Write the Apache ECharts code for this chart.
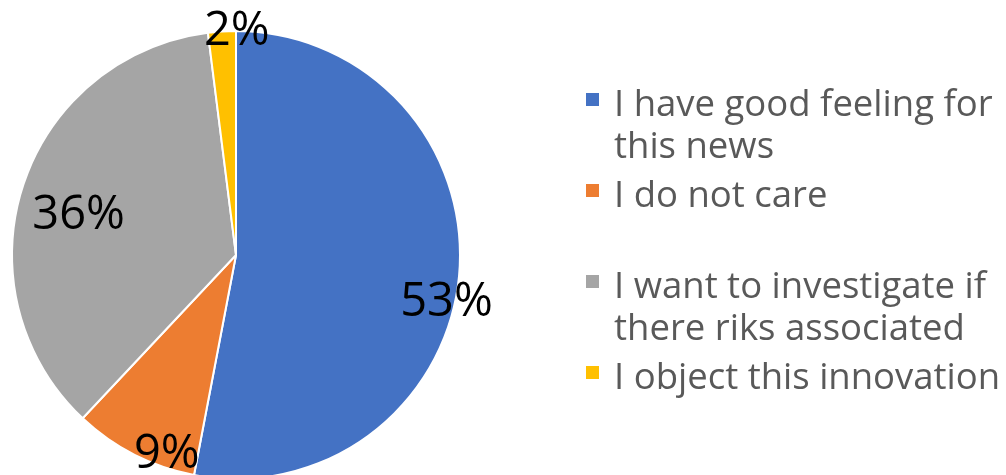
<!DOCTYPE html>
<html>
<head>
<meta charset="utf-8">
<script src="https://cdn.jsdelivr.net/npm/echarts@6/dist/echarts.min.js"></script>
<style>
  html, body { margin: 0; padding: 0; background: #ffffff; }
  #chart { width: 1006px; height: 475px; }
</style>
</head>
<body>
<div id="chart"></div>
<script>
// Survey responses: share of each reaction to the news (percent)
const categories = [
  'I have good feeling for this news',
  'I do not care',
  'I want to investigate if there riks associated',
  'I object this innovation'
];
const shares = [53, 9, 36, 2];
// Legend text as it wraps on screen
const legendLines = [
  ['I have good feeling for', 'this news'],
  ['I do not care'],
  ['I want to investigate if', 'there riks associated'],
  ['I object this innovation']
];
const colors = ['#4472C4', '#ED7D31', '#A5A5A5', '#FFC000'];

// Nudges that move each percentage label from the slice's mid-radius point
const labelShift = [[96, 37], [-17, 97], [-48, -4], [8, -109]];

const chart = echarts.init(document.getElementById('chart'), null, { renderer: 'canvas' });

// A blank first line keeps the marker level with the first line of wrapped entries
const legendText = {};
categories.forEach((c, i) => {
  const lines = legendLines[i];
  legendText[c] = lines.length > 1 ? '\n' + lines.join('\n') : lines[0];
});

// Square marker drawn in the upper part of a taller icon box, so the text sits a little lower
const markerIcon = 'path://M0,0h13v13h-13z M0,25h0.01';

chart.setOption({
  animation: false,
  color: colors,
  legend: {
    orient: 'vertical',
    left: 586,
    top: 42.5,
    padding: 0,
    itemGap: 7,
    itemWidth: 13,
    itemHeight: 25,
    icon: markerIcon,
    itemStyle: { borderWidth: 0 },
    selectedMode: false,
    data: categories,
    formatter: name => legendText[name],
    textStyle: {
      fontFamily: '"Open Sans", sans-serif',
      fontSize: 36.5,
      lineHeight: 42,
      color: '#595959',
      padding: [0, 0, 0, 10]
    }
  },
  series: [{
    type: 'pie',
    center: [236, 255],
    radius: [0, 224],
    startAngle: 90,
    clockwise: true,
    avoidLabelOverlap: false,
    data: categories.map((c, i) => ({ name: c, value: shares[i] })),
    itemStyle: { borderColor: '#ffffff', borderWidth: 2 },
    label: {
      show: true,
      position: 'inside',
      formatter: p => p.value + '%',
      fontFamily: '"Open Sans", sans-serif',
      fontSize: 47,
      color: '#000000'
    },
    labelLine: { show: false },
    labelLayout: p => ({ dx: labelShift[p.dataIndex][0], dy: labelShift[p.dataIndex][1] }),
    emphasis: { disabled: true }
  }]
});
</script>
</body>
</html>
